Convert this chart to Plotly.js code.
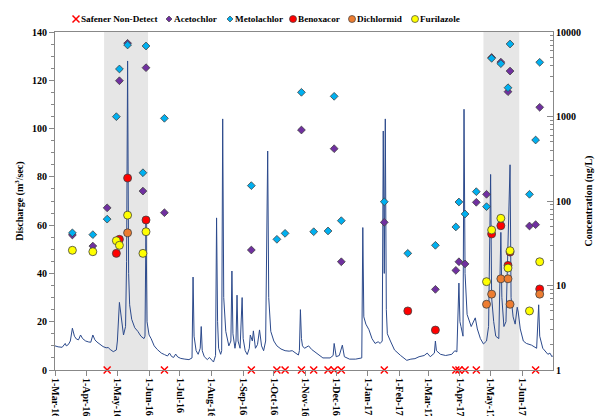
<!DOCTYPE html>
<html>
<head>
<meta charset="utf-8">
<script src="https://cdn.plot.ly/plotly-3.0.1.min.js"></script>
<style>html,body{margin:0;padding:0;background:#fff;}#chart{width:595px;height:416px;}</style>
</head>
<body>
<div id="chart"></div>
<script>
// Discharge hydrograph (m3/sec)
const qDates = ["2016-03-01","2016-03-04","2016-03-08","2016-03-11","2016-03-12","2016-03-14","2016-03-16","2016-03-18","2016-03-20","2016-03-22","2016-03-24","2016-03-26","2016-03-28","2016-03-31","2016-04-03","2016-04-05","2016-04-07","2016-04-09","2016-04-11","2016-04-14","2016-04-17","2016-04-20","2016-04-22","2016-04-24","2016-04-27","2016-04-30","2016-05-01","2016-05-03","2016-05-05","2016-05-07","2016-05-09","2016-05-10","2016-05-11","2016-05-12","2016-05-13","2016-05-15","2016-05-18","2016-05-21","2016-05-24","2016-05-27","2016-05-28","2016-05-29","2016-05-30","2016-06-01","2016-06-03","2016-06-06","2016-06-09","2016-06-13","2016-06-16","2016-06-19","2016-06-21","2016-06-23","2016-06-25","2016-06-27","2016-06-29","2016-07-02","2016-07-06","2016-07-10","2016-07-13","2016-07-14","2016-07-15","2016-07-17","2016-07-19","2016-07-21","2016-07-22","2016-07-23","2016-07-25","2016-07-28","2016-07-30","2016-08-01","2016-08-03","2016-08-05","2016-08-06","2016-08-07","2016-08-08","2016-08-10","2016-08-11","2016-08-12","2016-08-13","2016-08-15","2016-08-18","2016-08-20","2016-08-21","2016-08-22","2016-08-24","2016-08-25","2016-08-26","2016-08-27","2016-08-29","2016-08-31","2016-09-01","2016-09-03","2016-09-05","2016-09-07","2016-09-08","2016-09-10","2016-09-11","2016-09-13","2016-09-15","2016-09-17","2016-09-19","2016-09-21","2016-09-23","2016-09-25","2016-09-26","2016-09-28","2016-10-01","2016-10-04","2016-10-08","2016-10-12","2016-10-16","2016-10-19","2016-10-22","2016-10-25","2016-10-26","2016-10-27","2016-10-28","2016-10-29","2016-10-31","2016-11-02","2016-11-04","2016-11-07","2016-11-12","2016-11-18","2016-11-25","2016-11-28","2016-11-29","2016-12-01","2016-12-04","2016-12-07","2016-12-09","2016-12-14","2016-12-20","2016-12-26","2016-12-27","2016-12-28","2016-12-30","2017-01-02","2017-01-05","2017-01-08","2017-01-11","2017-01-13","2017-01-15","2017-01-16","2017-01-17","2017-01-18","2017-01-19","2017-01-20","2017-01-23","2017-01-27","2017-02-02","2017-02-08","2017-02-12","2017-02-16","2017-02-20","2017-02-25","2017-02-28","2017-03-03","2017-03-07","2017-03-08","2017-03-09","2017-03-13","2017-03-18","2017-03-24","2017-03-27","2017-03-29","2017-03-31","2017-04-01","2017-04-02","2017-04-04","2017-04-05","2017-04-06","2017-04-08","2017-04-12","2017-04-16","2017-04-18","2017-04-21","2017-04-24","2017-04-27","2017-04-29","2017-05-01","2017-05-02","2017-05-04","2017-05-06","2017-05-09","2017-05-11","2017-05-12","2017-05-14","2017-05-16","2017-05-20","2017-05-21","2017-05-23","2017-05-25","2017-05-27","2017-05-28","2017-05-30","2017-06-02","2017-06-05","2017-06-10","2017-06-15","2017-06-17","2017-06-18","2017-06-21","2017-06-24","2017-06-26","2017-06-28","2017-06-30","2017-07-01"];
const qValues = [10,9.6,9.4,11,10,10.5,12,17.3,14,12.8,12.5,14.5,13,12,11.6,11.5,14.5,12.5,11.6,10.5,9.7,9.2,9.3,8.5,7.6,8.3,12,28,20,14.5,18,45,128,40,27,21,17.5,16,14,13,14,62,20,14.5,13,10,8.5,7,6.4,5.8,7,5.6,5.2,6.6,5.4,4.8,4.5,4.3,5,38.5,14,8,6.5,9,18,8,5.5,4.3,5.2,4,3.3,6,63,20,9,6.5,8,104,30,16,10,12,41,15,9,12,31,12,9,30,13,8,6.4,9,14.5,12,16.2,9,10.5,16.6,10,8,12,90.7,30,16,12,10,8.7,8,7.8,8,7,6.2,8,25,13,10,9,9.5,10,8.5,7,5,5,6,11,5.5,6,10.3,5.5,4.5,4.5,5,59,22,19,16.7,13,11,11.7,11,12,99,40,104,25,15,12,8.3,6,4,4.5,4.7,5.5,6,7,5.5,7,12,8,6.5,6,6.5,8,7.5,36,20,18,14,108,40,23,18,21.6,17,13,10.8,12,18,81,30,20,14,13,57,30,18,20,85,30,22,19,26,24,17,12,11,10.3,9,27,14,9,7.6,6.5,7,5.5,6];

// Concentrations (ng/L)
const acetoDates = ["2016-03-18","2016-04-07","2016-04-21","2016-05-03","2016-05-11","2016-05-26","2016-05-29","2016-06-16","2016-09-09","2016-10-28","2016-11-29","2016-12-06","2017-01-17","2017-03-08","2017-03-28","2017-03-31","2017-04-06","2017-04-17","2017-04-27","2017-05-02","2017-05-11","2017-05-18","2017-05-20","2017-06-08","2017-06-14","2017-06-18"];
const acetoValues = [39.6,29.3,83,2650,7350,131,3780,72.7,26.3,692,416,19.1,55.9,9.0,15.1,19.1,18,96.5,120,4990,4400,1966,3450,50.6,52.5,1285];

const metoDates = ["2016-03-18","2016-04-07","2016-04-21","2016-04-30","2016-05-03","2016-05-11","2016-05-26","2016-05-29","2016-06-16","2016-09-09","2016-10-04","2016-10-12","2016-10-28","2016-11-09","2016-11-23","2016-11-29","2016-12-06","2017-01-17","2017-02-09","2017-03-08","2017-03-28","2017-03-31","2017-04-06","2017-04-17","2017-04-27","2017-05-02","2017-05-11","2017-05-18","2017-05-20","2017-06-08","2017-06-14","2017-06-18"];
const metoValues = [42,40,61,995,3650,7020,216,6830,952,152,35.2,41.4,1933,43.3,44.2,1733,58.5,98,24,29.9,49.3,97.3,70.2,129,85.7,4880,4220,2190,7210,120,527,4380];

const benoDates = ["2016-04-30","2016-05-03","2016-05-11","2016-05-29","2017-02-09","2017-03-08","2017-05-02","2017-05-11","2017-05-18","2017-05-20","2017-06-18"];
const benoValues = [24,35.2,187,59.6,5.0,2.97,40.7,51,17.3,24.9,9.1];

const dichDates = ["2016-05-11","2017-04-27","2017-05-02","2017-05-11","2017-05-18","2017-05-20","2017-06-18"];
const dichValues = [42,6.0,7.9,12,12,6.0,7.9];

const furiDates = ["2016-03-18","2016-04-07","2016-04-30","2016-05-03","2016-05-11","2016-05-26","2016-05-29","2017-04-27","2017-05-02","2017-05-11","2017-05-18","2017-05-20","2017-06-08","2017-06-18"];
const furiValues = [26.1,25.1,33.9,29.9,68,24,43.3,11.1,45.4,62.4,16.1,25.8,5.0,19.1];

const ndDates = ["2016-04-21","2016-06-16","2016-09-09","2016-10-04","2016-10-12","2016-10-28","2016-11-09","2016-11-23","2016-11-29","2016-12-06","2017-01-17","2017-03-28","2017-03-31","2017-04-06","2017-04-17","2017-06-14"];
const ndLevel = 1; // plotted on the axis floor

const shadedPeriods = [["2016-04-18","2016-05-31"],["2017-04-24","2017-05-29"]];

const tickDates = ["2016-03-01","2016-04-01","2016-05-01","2016-06-01","2016-07-01","2016-08-01","2016-09-01","2016-10-01","2016-11-01","2016-12-01","2017-01-01","2017-02-01","2017-03-01","2017-04-01","2017-05-01","2017-06-01"];
const concTicks = [1,10,100,1000,10000];

const FONT = "Liberation Serif, Times New Roman, serif";
const OUT = {color:"#404040", width:0.8};

const traces = [
  {x:qDates, y:qValues, type:"scatter", mode:"lines", line:{color:"#2C4A8C", width:1}, yaxis:"y", showlegend:false, hoverinfo:"skip"},
  {x:ndDates, y:ndDates.map(()=>ndLevel), type:"scatter", mode:"markers", yaxis:"y2", cliponaxis:false,
   marker:{symbol:"x-thin-open", size:7, line:{color:"#FF0000", width:1.5}, color:"#FF0000"}, showlegend:false},
  {x:acetoDates, y:acetoValues, type:"scatter", mode:"markers", yaxis:"y2", marker:{symbol:"diamond", size:6, color:"#7030A0", line:OUT}, showlegend:false},
  {x:metoDates, y:metoValues, type:"scatter", mode:"markers", yaxis:"y2", marker:{symbol:"diamond", size:6, color:"#00B0F0", line:OUT}, showlegend:false},
  {x:benoDates, y:benoValues, type:"scatter", mode:"markers", yaxis:"y2", marker:{symbol:"circle", size:8, color:"#FF0000", line:OUT}, showlegend:false},
  {x:dichDates, y:dichValues, type:"scatter", mode:"markers", yaxis:"y2", marker:{symbol:"circle", size:8, color:"#ED7D31", line:OUT}, showlegend:false},
  {x:furiDates, y:furiValues, type:"scatter", mode:"markers", yaxis:"y2", marker:{symbol:"circle", size:8, color:"#FFFF00", line:OUT}, showlegend:false}
];

// Plot geometry for the custom legend (pixels)
const L = 55, R = 553, T = 32, B = 370;
const px = x => (x - L) / (R - L);
const py = y => (B - y) / (B - T);
const legendY = py(19);
const legendItems = [
  {label:"Safener Non-Detect", kind:"x", color:"#FF0000", sx:76, tx:80},
  {label:"Acetochlor", kind:"diamond", color:"#7030A0", sx:169, tx:173},
  {label:"Metolachlor", kind:"diamond", color:"#00B0F0", sx:230, tx:234},
  {label:"Benoxacor", kind:"circle", color:"#FF0000", sx:293, tx:297},
  {label:"Dichlormid", kind:"circle", color:"#ED7D31", sx:352, tx:356},
  {label:"Furilazole", kind:"circle", color:"#FFFF00", sx:415, tx:419}
];

const shapes = shadedPeriods.map(p => ({type:"rect", xref:"x", yref:"paper", x0:p[0], x1:p[1], y0:0, y1:1,
  fillcolor:"#E6E6E6", line:{width:0}, layer:"below"}));
const annotations = [];
legendItems.forEach(it => {
  const base = {xref:"paper", yref:"paper", xsizemode:"pixel", ysizemode:"pixel", xanchor:px(it.sx), yanchor:legendY};
  if (it.kind === "x") {
    shapes.push(Object.assign({type:"path", path:"M-3.5,-3.5L3.5,3.5M-3.5,3.5L3.5,-3.5", line:{color:it.color, width:1.5}}, base));
  } else if (it.kind === "diamond") {
    shapes.push(Object.assign({type:"path", path:"M0,-3L3,0L0,3L-3,0Z", fillcolor:it.color, line:{color:"#404040", width:0.7}}, base));
  } else {
    shapes.push(Object.assign({type:"circle", x0:-3.5, x1:3.5, y0:-3.5, y1:3.5, fillcolor:it.color, line:{color:"#404040", width:0.7}}, base));
  }
  annotations.push({xref:"paper", yref:"paper", x:px(it.tx), y:legendY, xanchor:"left", yanchor:"middle",
    text:it.label, showarrow:false, borderpad:0, font:{family:FONT, size:9.2, color:"#000", weight:"bold"}});
});

const tickFont = {family:FONT, size:10, color:"#000", weight:"bold"};
const layout = {
  width:595, height:416,
  margin:{l:L, r:595-R, t:T, b:416-B, pad:0},
  paper_bgcolor:"#fff", plot_bgcolor:"#fff",
  font:{family:FONT, size:10, color:"#000"},
  showlegend:false,
  xaxis:{type:"date", range:["2016-03-01","2017-07-01"], tickvals:tickDates, tickformat:"%-d-%b-%y", tickangle:90,
    tickfont:tickFont, ticks:"outside", ticklen:5, tickcolor:"#888", showline:true, linecolor:"#888", linewidth:1,
    mirror:true, showgrid:false, zeroline:false, automargin:false},
  yaxis:{range:[0,140], dtick:20, tickfont:tickFont, ticks:"outside", ticklen:5, tickcolor:"#888",
    minor:{dtick:5, ticks:"outside", ticklen:3, tickcolor:"#888", showgrid:false},
    showline:true, linecolor:"#888", linewidth:1, showgrid:false, zeroline:false, automargin:false,
    title:{text:"Discharge (m<sup>3</sup>/sec)", font:{family:FONT, size:10, color:"#000", weight:"bold"}, standoff:6}},
  yaxis2:{type:"log", range:[0,4], overlaying:"y", side:"right", tickvals:concTicks, ticktext:concTicks.map(String),
    tickfont:tickFont, ticks:"inside", ticklen:6, tickcolor:"#888",
    minor:{dtick:"D1", ticks:"inside", ticklen:3, tickcolor:"#888", showgrid:false},
    showline:true, linecolor:"#888", linewidth:1, showgrid:false, zeroline:false, automargin:false,
    title:{text:"Concentration (ng/L)", font:{family:FONT, size:10, color:"#000", weight:"bold"}, standoff:6}},
  shapes:shapes,
  annotations:annotations
};

Plotly.newPlot("chart", traces, layout, {displayModeBar:false, staticPlot:true});
</script>
</body>
</html>
